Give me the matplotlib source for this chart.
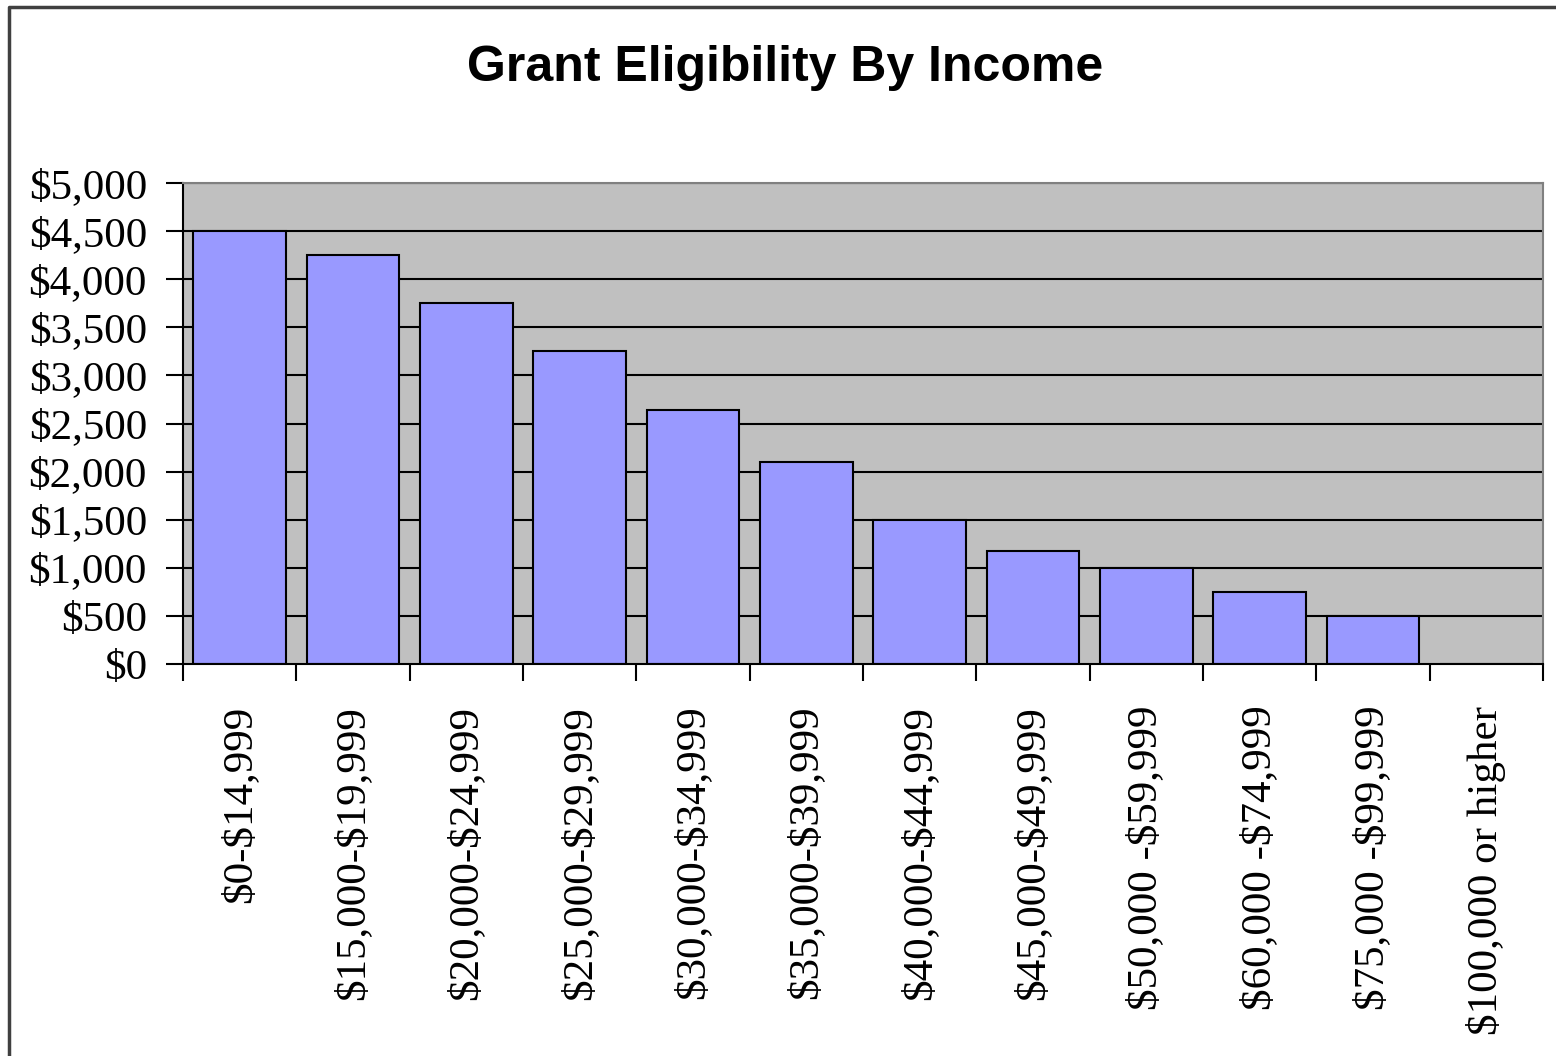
import matplotlib
matplotlib.use("Agg")
import matplotlib.pyplot as plt
from matplotlib.lines import Line2D
from matplotlib.ticker import FuncFormatter, FixedLocator

# dollar signs are literal text here, not math
plt.rcParams['text.parse_math'] = False

# income brackets and the grant amount for each
brackets = ['$0-$14,999', '$15,000-$19,999', '$20,000-$24,999', '$25,000-$29,999',
            '$30,000-$34,999', '$35,000-$39,999', '$40,000-$44,999', '$45,000-$49,999',
            '$50,000 -$59,999', '$60,000 -$74,999', '$75,000 -$99,999', '$100,000 or higher']
grants = [4500, 4250, 3750, 3250, 2640, 2100, 1500, 1175, 1000, 750, 500, 0]
y_ticks = [0, 500, 1000, 1500, 2000, 2500, 3000, 3500, 4000, 4500, 5000]

serif = 'Liberation Serif'

fig = plt.figure(figsize=(15.56, 10.56), dpi=100)
ax = fig.add_axes([183 / 1556, 1 - 664 / 1056, (1543 - 183) / 1556, (664 - 183) / 1056])
ax.set_facecolor('#C0C0C0')

# gridlines under the bars
for v in y_ticks[1:]:
    ax.axhline(v, color='black', linewidth=1.5, zorder=1)

x = list(range(len(brackets)))
ax.bar(x, grants, width=0.82, color='#9999FF', edgecolor='black', linewidth=1.5, zorder=2)

ax.set_xlim(-0.5, len(brackets) - 0.5)
ax.set_ylim(0, 5000)

# y axis: dollar format
ax.set_yticks(y_ticks)
ax.yaxis.set_major_formatter(FuncFormatter(lambda v, p: '${:,.0f}'.format(v)))
ax.tick_params(axis='y', direction='out', length=12, width=1.5, pad=14,
               labelsize=31, colors='black')
for lab in ax.get_yticklabels():
    lab.set_fontfamily(serif)

# x axis: ticks between categories, labels at centers
ax.xaxis.set_major_locator(FixedLocator([i - 0.5 for i in range(len(brackets) + 1)]))
ax.xaxis.set_major_formatter(FuncFormatter(lambda v, p: ''))
ax.xaxis.set_minor_locator(FixedLocator(x))
ax.set_xticklabels(brackets, minor=True, rotation=90, fontsize=31, fontfamily=serif,
                   va='top', ha='center')
ax.tick_params(axis='x', which='major', direction='out', length=12, width=1.5)
ax.tick_params(axis='x', which='minor', length=0, pad=30)

for side in ['left', 'bottom']:
    ax.spines[side].set_color('black')
    ax.spines[side].set_linewidth(1.5)
for side in ['top', 'right']:
    ax.spines[side].set_color('#808080')
    ax.spines[side].set_linewidth(1.5)

fig.text(785 / 1556, 1 - 68 / 1056, 'Grant Eligibility By Income', ha='center', va='center',
         fontsize=36, fontweight='bold', fontfamily='Liberation Sans')

# chart frame (left and top edges only)
fl = 9 / 1556
ft = 1 - 7 / 1056
fig.add_artist(Line2D([fl, fl, 1.0], [0.0, ft, ft], transform=fig.transFigure,
                      color='#404040', linewidth=2.5))

fig.savefig('out.png', dpi=100)
